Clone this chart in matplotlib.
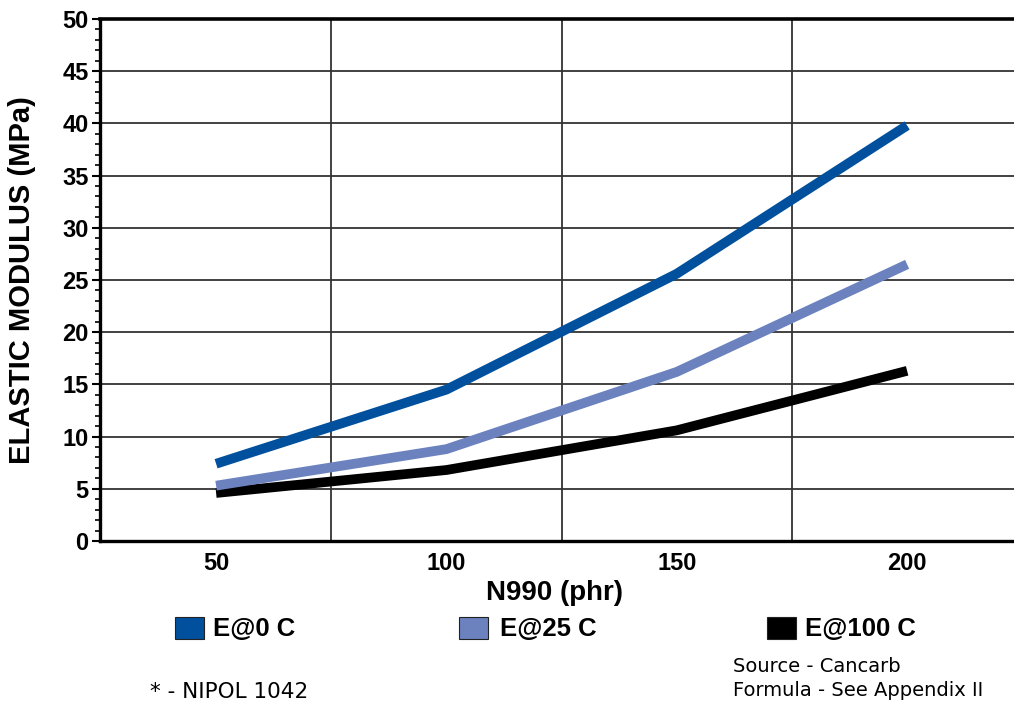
import matplotlib
matplotlib.use("Agg")
import matplotlib.pyplot as plt
from matplotlib.patches import Rectangle
from matplotlib.ticker import MultipleLocator

plt.rcParams['font.family'] = ['Liberation Sans', 'DejaVu Sans']

phr = [50, 100, 150, 200]
e0 = [7.4, 14.5, 25.6, 39.8]
e25 = [5.3, 8.8, 16.2, 26.5]
e100 = [4.6, 6.8, 10.6, 16.3]
series_names = ['E@0 C', 'E@25 C', 'E@100 C']
colors = ['#00509E', '#6B82BF', '#000000']
xticks = [50, 100, 150, 200]
vgrid = [75, 125, 175]

fig = plt.figure(figsize=(10.14, 7.09), dpi=100)
ax = fig.add_axes([100/1014, (709-541)/709, 1 - 100/1014, (541-19)/709])

ax.set_xlim(24.8, 223.2)
ax.set_ylim(0, 50)

for x in vgrid:
    ax.axvline(x, color='#333333', lw=1.3, zorder=1)
for y in range(5, 50, 5):
    ax.axhline(y, color='#333333', lw=1.3, zorder=1)
ax.axhline(50, color='black', lw=2.6, zorder=1, clip_on=False)

for vals, c in zip([e100, e25, e0], [colors[2], colors[1], colors[0]]):
    ax.plot(phr, vals, color=c, lw=7.0, solid_capstyle='butt', solid_joinstyle='miter', zorder=3)

for s in ['top', 'right']:
    ax.spines[s].set_visible(False)
for s in ['left', 'bottom']:
    ax.spines[s].set_linewidth(2.4)
    ax.spines[s].set_color('black')

ax.set_xticks(xticks)
ax.set_xticklabels([str(v) for v in xticks], fontsize=17, fontweight='bold')
ax.tick_params(axis='x', length=0, pad=8)
ax.yaxis.set_major_locator(MultipleLocator(5))
ax.yaxis.set_minor_locator(MultipleLocator(1))
ax.tick_params(axis='y', which='major', length=5.8, width=1.5, pad=2.5, labelsize=17)
ax.tick_params(axis='y', which='minor', length=3.6, width=1.2)
for lab in ax.get_yticklabels():
    lab.set_fontweight('bold')

fig.text(22/1014, 1 - 280/709, 'ELASTIC MODULUS (MPa)', rotation=90, ha='center', va='center',
         fontsize=21, fontweight='bold')
fig.text(554/1014, 1 - 593/709, 'N990 (phr)', ha='center', va='center', fontsize=20, fontweight='bold')

# legend
leg_boxes = [175, 459, 767]
leg_text = [213, 500, 805]
for bx, tx, name, c in zip(leg_boxes, leg_text, series_names, colors):
    fig.patches.append(Rectangle((bx/1014, 1 - 639/709), 29/1014, 22/709, transform=fig.transFigure,
                                 facecolor=c, edgecolor='#222222', lw=0.8))
    fig.text(tx/1014, 1 - 629/709, name, ha='left', va='center', fontsize=18.5, fontweight='bold')

fig.text(150/1014, 1 - 692/709, '* - NIPOL 1042', ha='left', va='center', fontsize=15.5,
         family=['DejaVu Sans'])
fig.text(733/1014, 1 - 666/709, 'Source - Cancarb', ha='left', va='center', fontsize=14,
         family=['DejaVu Sans'])
fig.text(733/1014, 1 - 691/709, 'Formula - See Appendix II', ha='left', va='center', fontsize=14,
         family=['DejaVu Sans'])

fig.savefig('out.png', dpi=100)
